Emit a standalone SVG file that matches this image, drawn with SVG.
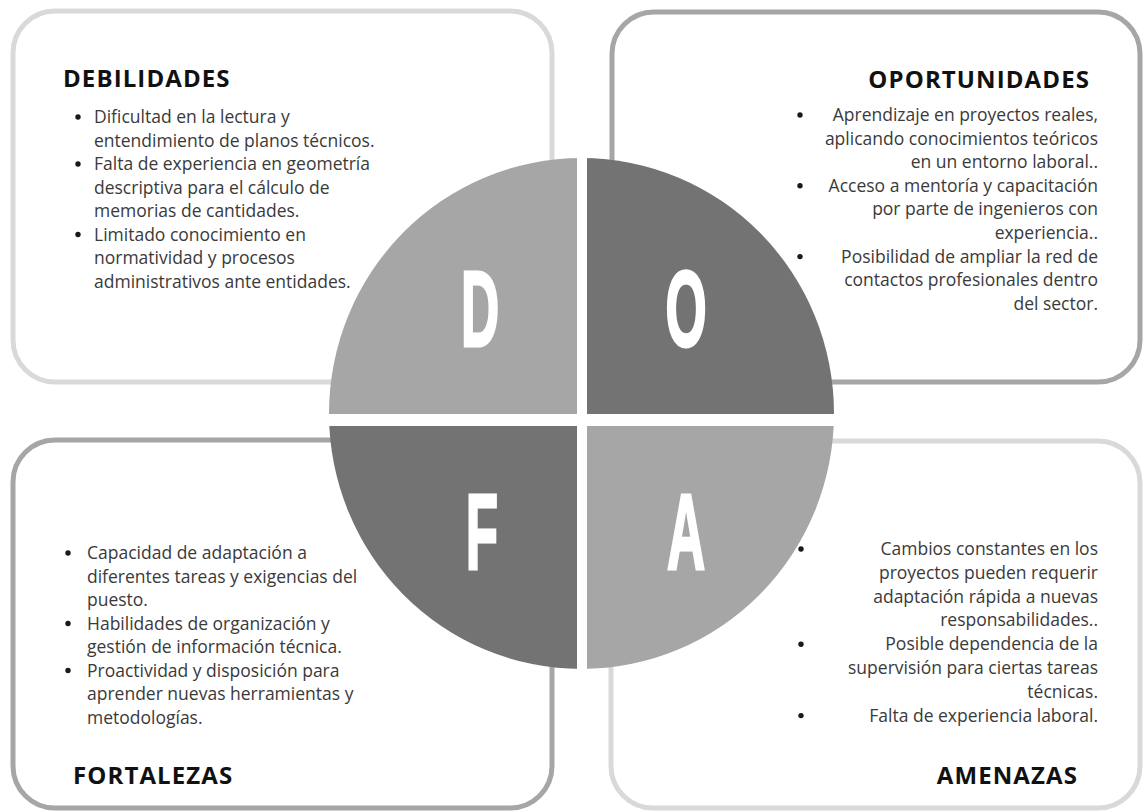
<svg xmlns="http://www.w3.org/2000/svg" width="1145" height="811" viewBox="0 0 1145 811">
<style>
.box{fill:#ffffff;stroke-width:5}
.light{stroke:#d9d9d9}
.dark{stroke:#a6a6a6}
.h{font-family:"Open Sans","Liberation Sans",sans-serif;font-weight:bold;font-size:24px;letter-spacing:1.1px;fill:#111111}
.t{font-family:"Open Sans","Liberation Sans",sans-serif;font-size:17.5px;fill:#3a3a3a}
.r{text-anchor:end}
.dot{fill:#1a1a1a}
.big{font-family:"Liberation Sans",Arial,sans-serif;font-weight:bold;font-size:108px;fill:#ffffff;stroke:#ffffff;stroke-width:3;stroke-linejoin:miter;text-anchor:middle}
.q1{fill:#a6a6a6}
.q2{fill:#737373}
</style>
<defs>
<clipPath id="circ"><ellipse cx="581.5" cy="413.5" rx="252.5" ry="255.5"/></clipPath>
</defs>

<g id="box-debilidades">
<rect class="box light" x="13" y="11" width="539" height="371" rx="42"/>
<text class="h" x="63" y="87">DEBILIDADES</text>
<circle class="dot" cx="78" cy="117" r="2.7"/>
<text class="t" x="94" y="123">Dificultad en la lectura y</text>
<text class="t" x="94" y="146.5">entendimiento de planos técnicos.</text>
<circle class="dot" cx="78" cy="164" r="2.7"/>
<text class="t" x="94" y="170">Falta de experiencia en geometría</text>
<text class="t" x="94" y="193.5">descriptiva para el cálculo de</text>
<text class="t" x="94" y="217">memorias de cantidades.</text>
<circle class="dot" cx="78" cy="234.5" r="2.7"/>
<text class="t" x="94" y="240.5">Limitado conocimiento en</text>
<text class="t" x="94" y="264">normatividad y procesos</text>
<text class="t" x="94" y="287.5">administrativos ante entidades.</text>
</g>

<g id="box-oportunidades">
<rect class="box dark" x="612" y="12" width="528" height="370" rx="42"/>
<text class="h r" x="1090" y="88">OPORTUNIDADES</text>
<circle class="dot" cx="800" cy="115" r="2.7"/>
<text class="t r" x="1098" y="121">Aprendizaje en proyectos reales,</text>
<text class="t r" x="1098" y="144.6">aplicando conocimientos teóricos</text>
<text class="t r" x="1098" y="168.2">en un entorno laboral..</text>
<circle class="dot" cx="800" cy="185.8" r="2.7"/>
<text class="t r" x="1098" y="191.8">Acceso a mentoría y capacitación</text>
<text class="t r" x="1098" y="215.4">por parte de ingenieros con</text>
<text class="t r" x="1098" y="239">experiencia..</text>
<circle class="dot" cx="800" cy="256.6" r="2.7"/>
<text class="t r" x="1098" y="262.6">Posibilidad de ampliar la red de</text>
<text class="t r" x="1098" y="286.2">contactos profesionales dentro</text>
<text class="t r" x="1098" y="309.8">del sector.</text>
</g>

<g id="box-fortalezas">
<rect class="box dark" x="13" y="440" width="539" height="368" rx="42"/>
<circle class="dot" cx="68" cy="553" r="2.7"/>
<text class="t" x="87" y="559"> Capacidad de adaptación a</text>
<text class="t" x="87" y="582.5">diferentes tareas y exigencias del</text>
<text class="t" x="87" y="606">puesto.</text>
<circle class="dot" cx="68" cy="623.5" r="2.7"/>
<text class="t" x="87" y="629.5">Habilidades de organización y</text>
<text class="t" x="87" y="653">gestión de información técnica.</text>
<circle class="dot" cx="68" cy="670.5" r="2.7"/>
<text class="t" x="87" y="676.5">Proactividad y disposición para</text>
<text class="t" x="87" y="700">aprender nuevas herramientas y</text>
<text class="t" x="87" y="723.5">metodologías.</text>
<text class="h" x="73" y="784">FORTALEZAS</text>
</g>

<g id="box-amenazas">
<rect class="box light" x="611" y="441" width="529" height="367" rx="42"/>
<circle class="dot" cx="801" cy="549" r="2.7"/>
<text class="t r" x="1098" y="555">Cambios constantes en los</text>
<text class="t r" x="1098" y="578.8">proyectos pueden requerir</text>
<text class="t r" x="1098" y="602.6">adaptación rápida a nuevas</text>
<text class="t r" x="1098" y="626.4">responsabilidades..</text>
<circle class="dot" cx="801" cy="644.2" r="2.7"/>
<text class="t r" x="1098" y="650.2">Posible dependencia de la</text>
<text class="t r" x="1098" y="674">supervisión para ciertas tareas</text>
<text class="t r" x="1098" y="697.8">técnicas.</text>
<circle class="dot" cx="801" cy="715.6" r="2.7"/>
<text class="t r" x="1098" y="721.6">Falta de experiencia laboral.</text>
<text class="h r" x="1078" y="784">AMENAZAS</text>
</g>

<g id="circle-dofa" clip-path="url(#circ)">
<g id="quad-d">
<rect class="q1" x="320" y="150" width="257" height="264"/>
</g>
<g id="quad-o">
<rect class="q2" x="587" y="150" width="255" height="264"/>
</g>
<g id="quad-f">
<rect class="q2" x="320" y="426" width="257" height="254"/>
</g>
<g id="quad-a">
<rect class="q1" x="587" y="426" width="255" height="254"/>
</g>
</g>
<g id="letters">
<text class="big" transform="translate(480,346) scale(0.49,1)">D</text>
<text class="big" transform="translate(686,346) scale(0.49,1)">O</text>
<text class="big" transform="translate(482,569) scale(0.49,1)">F</text>
<text class="big" transform="translate(686,569) scale(0.49,1)">A</text>
</g>
</svg>
